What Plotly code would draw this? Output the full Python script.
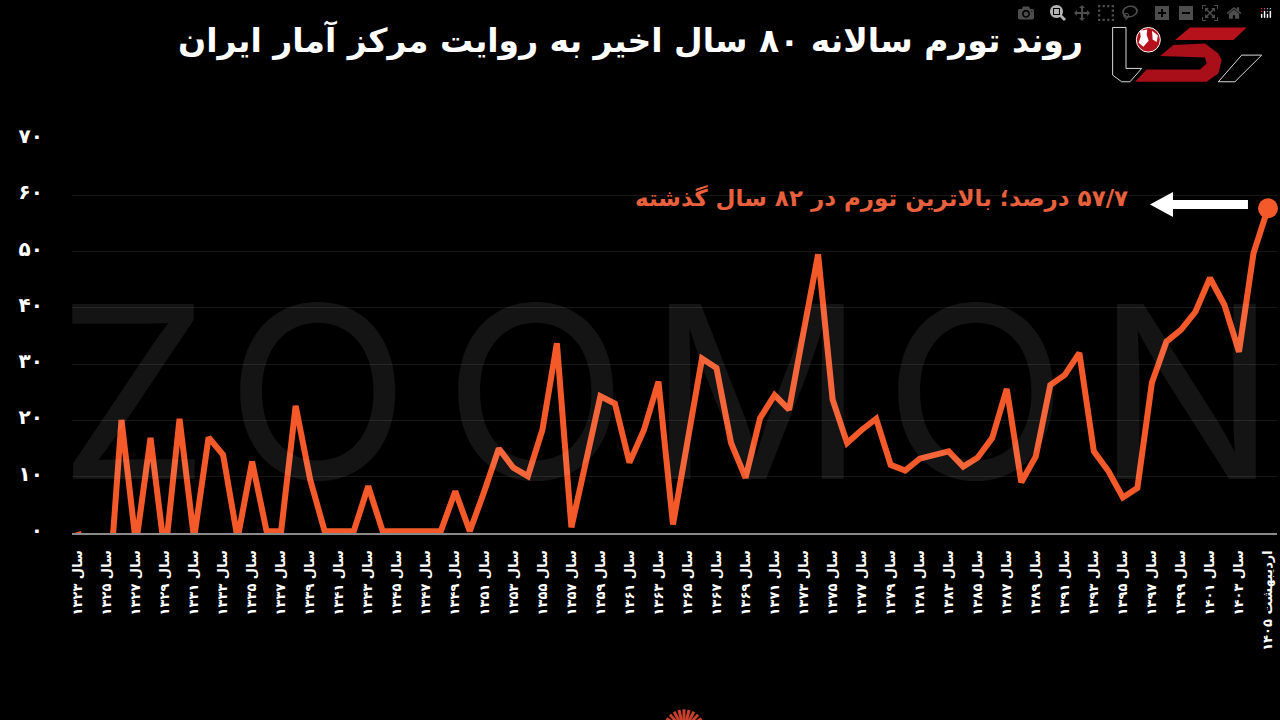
import math
import plotly.graph_objects as go

# Values. Points below zero are cut off by the axis in the original
years = list(range(1323, 1406))
inflation = [
    0.2, -8, -15, 20.1, -2, 16.9, -4, 20.3, -1, 17.0,
    13.9, -1, 12.7, 0.3, 0.3, 22.6, 9.5, 0.3, 0.3, 0.3,
    8.3, 0.3, 0.3, 0.3, 0.3, 0.3, 7.4, 0.3, 7.4, 15.0,
    11.6, 10.1, 18.3, 33.7, 1.0, 12.5, 24.3, 23.0, 12.5, 18.3,
    26.9, 1.5, 16.6, 31.0, 29.3, 16.0, 9.8, 20.4, 24.5, 21.9,
    35.8, 49.5, 23.7, 16.0, 18.3, 20.3, 12.1, 11.1, 13.2, 13.9,
    14.5, 11.8, 13.4, 16.9, 25.6, 9.0, 13.6, 26.3, 28.1, 32.0,
    14.5, 11.0, 6.3, 8.0, 26.7, 34.0, 36.1, 39.3, 45.3, 40.5,
    32.2, 49.7, 57.7,
]
x_ticks = list(range(1323, 1406, 2))
x_labels = [
    "سال ۱۳۲۳", "سال ۱۳۲۵", "سال ۱۳۲۷", "سال ۱۳۲۹", "سال ۱۳۳۱", "سال ۱۳۳۳", "سال ۱۳۳۵",
    "سال ۱۳۳۷", "سال ۱۳۳۹", "سال ۱۳۴۱", "سال ۱۳۴۳", "سال ۱۳۴۵", "سال ۱۳۴۷", "سال ۱۳۴۹",
    "سال ۱۳۵۱", "سال ۱۳۵۳", "سال ۱۳۵۵", "سال ۱۳۵۷", "سال ۱۳۵۹", "سال ۱۳۶۱", "سال ۱۳۶۳",
    "سال ۱۳۶۵", "سال ۱۳۶۷", "سال ۱۳۶۹", "سال ۱۳۷۱", "سال ۱۳۷۳", "سال ۱۳۷۵", "سال ۱۳۷۷",
    "سال ۱۳۷۹", "سال ۱۳۸۱", "سال ۱۳۸۳", "سال ۱۳۸۵", "سال ۱۳۸۷", "سال ۱۳۸۹", "سال ۱۳۹۱",
    "سال ۱۳۹۳", "سال ۱۳۹۵", "سال ۱۳۹۷", "سال ۱۳۹۹", "سال ۱۴۰۱", "سال ۱۴۰۳", "اردیبهشت ۱۴۰۵",
]
y_ticks = [0, 10, 20, 30, 40, 50, 60, 70]
y_labels = ["۰", "۱۰", "۲۰", "۳۰", "۴۰", "۵۰", "۶۰", "۷۰"]

TITLE = "روند تورم سالانه ۸۰ سال اخیر به روایت مرکز آمار ایران"
NOTE = "\u202b۵۷/۷ درصد؛ بالاترین تورم در ۸۲ سال گذشته\u202c"
ORANGE = "#f4592a"
FONT = "DejaVu Sans"

# plot area in page pixels
LEFT, RIGHT, TOP, BOTTOM = 72, 1277, 139, 533.5


def px(x):
    return (x - LEFT) / (RIGHT - LEFT)


def py(y):
    return (BOTTOM - y) / (BOTTOM - TOP)


def path(points):
    return "M " + " L ".join(f"{px(x):.4f},{py(y):.4f}" for x, y in points) + " Z"


def logo_path(points):
    # points were measured on a 3x crop of the logo corner
    return path([(1090 + x / 3, y / 3) for x, y in points])


fig = go.Figure()

fig.add_scatter(x=years, y=inflation, mode="lines", line=dict(color=ORANGE, width=6),
                showlegend=False, hoverinfo="skip")
fig.add_scatter(x=years[-1:], y=inflation[-1:], mode="markers", marker=dict(color=ORANGE, size=20),
                cliponaxis=False, showlegend=False, hoverinfo="skip")

shapes = []

# white arrow pointing at the note
shapes.append(dict(type="path", xref="paper", yref="paper", line_width=0, fillcolor="white",
                   path=path([(1248, 200), (1173, 200), (1173, 192), (1150, 204.5),
                              (1173, 217), (1173, 209), (1248, 209)])))

# logo, top right
shapes.append(dict(type="path", xref="paper", yref="paper", fillcolor="rgba(0,0,0,0)",
                   line=dict(color="#d8d8d8", width=1),
                   path=logo_path([(68, 82), (108, 82), (108, 205), (155, 205),
                                   (120, 245), (95, 245), (68, 225)])))
shapes.append(dict(type="path", xref="paper", yref="paper", line_width=0, fillcolor="#b5121b",
                   path=logo_path([(300, 82), (470, 82), (430, 120), (255, 120)])))
shapes.append(dict(type="path", xref="paper", yref="paper", line_width=0, fillcolor="#a80f18",
                   path=logo_path([(250, 135), (345, 130), (385, 160), (395, 180), (385, 220),
                                   (350, 245), (135, 245), (170, 208), (330, 208), (350, 190),
                                   (345, 172), (210, 168)])))
shapes.append(dict(type="path", xref="paper", yref="paper", fillcolor="rgba(0,0,0,0)",
                   line=dict(color="#d8d8d8", width=1),
                   path=logo_path([(455, 165), (515, 165), (435, 245), (385, 245)])))
shapes.append(dict(type="circle", xref="paper", yref="paper", fillcolor="#b5121b",
                   line=dict(color="white", width=1),
                   x0=px(1090 + 139 / 3), x1=px(1090 + 211 / 3), y0=py(156 / 3), y1=py(82 / 3)))
shapes.append(dict(type="path", xref="paper", yref="paper", line_width=0, fillcolor="white",
                   path=logo_path([(150, 92), (172, 88), (170, 104), (176, 122), (160, 140),
                                   (146, 128), (152, 110)])))
shapes.append(dict(type="path", xref="paper", yref="paper", line_width=0, fillcolor="white",
                   path=logo_path([(186, 92), (204, 106), (200, 126), (188, 118)])))

# sunburst of the cut off logo at the bottom
for k in range(-6, 7):
    a = math.radians(k * 14)
    shapes.append(dict(type="line", xref="paper", yref="paper", line=dict(color="#c9402c", width=3),
                       x0=px(684 + 10 * math.sin(a)), y0=py(731 - 10 * math.cos(a)),
                       x1=px(684 + 21 * math.sin(a)), y1=py(731 - 21 * math.cos(a))))

annotations = [
    dict(text=f"<b>{TITLE}</b>", xref="paper", yref="paper", x=px(630), y=py(40), showarrow=False,
         xanchor="center", yanchor="middle", font=dict(family=FONT, size=33, color="white")),
    dict(text=f"<b>{NOTE}</b>", xref="paper", yref="paper", x=px(1130), y=py(199), showarrow=False,
         xanchor="right", yanchor="middle", font=dict(family=FONT, size=23, color="#e8603c")),
    dict(text="<b>زومون</b>", xref="paper", yref="paper", x=px(612), y=py(706), showarrow=False,
         xanchor="center", yanchor="top", font=dict(family=FONT, size=30, color="white")),
]

# watermark letters sit over the line in the original, so they are see-through
for letter, centre in zip("ZOOMON", [133, 318, 536, 756, 976, 1186]):
    annotations.append(dict(text=letter, xref="paper", yref="paper", x=px(centre), y=py(391.5),
                            showarrow=False, xanchor="center", yanchor="middle",
                            font=dict(family="Inter", size=240, color="rgba(255,255,255,0.08)")))

fig.update_layout(
    width=1280,
    height=720,
    margin=dict(l=LEFT, r=1280 - RIGHT, t=TOP, b=720 - BOTTOM, autoexpand=False),
    paper_bgcolor="black",
    plot_bgcolor="black",
    shapes=shapes,
    annotations=annotations,
    showlegend=False,
)
fig.update_xaxes(
    range=[1322.59, 1405.62],
    tickmode="array",
    tickvals=x_ticks,
    ticktext=[f"<b>{t}</b>" for t in x_labels],
    tickangle=-90,
    tickfont=dict(family=FONT, size=13, color="white"),
    ticks="",
    ticklabelstandoff=10,
    showgrid=False,
    zeroline=False,
    showline=True,
    linecolor="#8a8a8a",
    linewidth=2,
)
fig.update_yaxes(
    range=[0, 70],
    tickmode="array",
    tickvals=y_ticks,
    ticktext=[f"<b>{t}</b>" for t in y_labels],
    tickfont=dict(family=FONT, size=20, color="white"),
    ticks="",
    ticklabelstandoff=28,
    ticklabelshift=-3,
    showgrid=True,
    gridcolor="#171717",
    gridwidth=1,
    zeroline=False,
    showline=False,
)

# the page margin would otherwise leave a white edge round the chart
fig.write_html("out.html", post_script="document.body.style.margin='0';document.body.style.background='black';")
